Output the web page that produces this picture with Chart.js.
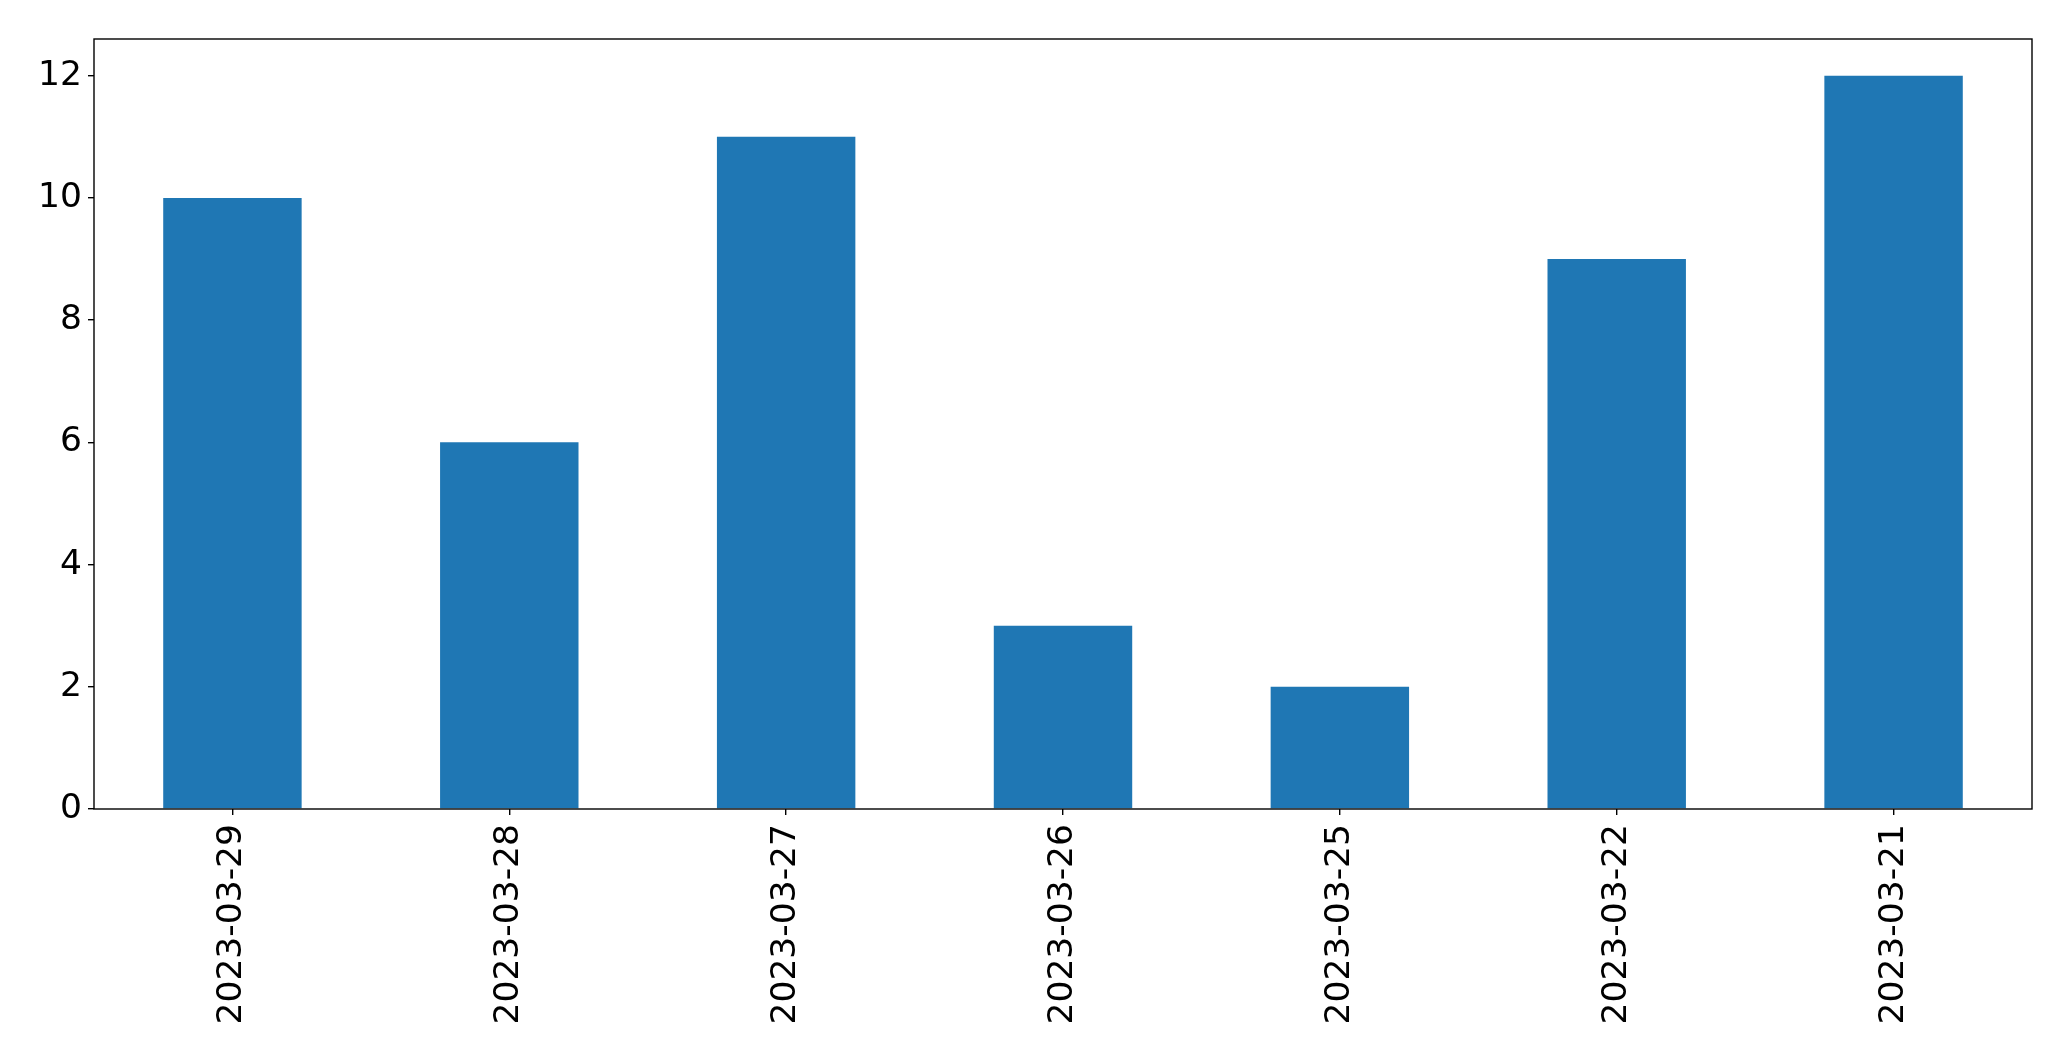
<!DOCTYPE html>
<html>
<head>
<meta charset="utf-8">
<script src="https://cdn.jsdelivr.net/npm/chart.js@4"></script>
<style>
  html, body { margin: 0; padding: 0; background: #fff; }
  canvas { display: block; }
</style>
</head>
<body>
<canvas id="c" width="2071" height="1061"></canvas>
<script>
// dati
var dates = ["2023-03-29", "2023-03-28", "2023-03-27", "2023-03-26", "2023-03-25", "2023-03-22", "2023-03-21"];
var counts = [10, 6, 11, 3, 2, 9, 12];
var yTicks = [0, 2, 4, 6, 8, 10, 12];

var FONT = { family: "DejaVu Sans", size: 34.5 };

// cornice completa attorno all'area del grafico
var frame = {
  id: "frame",
  afterDraw: function (chart) {
    var a = chart.chartArea, ctx = chart.ctx;
    ctx.save();
    ctx.strokeStyle = "#000";
    ctx.lineWidth = 1.4;
    ctx.strokeRect(a.left, a.top, a.right - a.left, a.bottom - a.top);
    ctx.restore();
  }
};

new Chart(document.getElementById("c"), {
  type: "bar",
  data: {
    labels: dates,
    datasets: [{ data: counts, backgroundColor: "#1f77b4", barPercentage: 0.5, categoryPercentage: 1.0 }]
  },
  options: {
    responsive: false,
    devicePixelRatio: 1,
    animation: false,
    layout: { padding: { top: 39, right: 39, left: 0, bottom: 0 } },
    plugins: { legend: { display: false }, tooltip: { enabled: false } },
    scales: {
      x: {
        offset: true,
        grid: { display: true, offset: false, drawOnChartArea: false, drawTicks: true, tickLength: 6, color: "#000", lineWidth: 1.4 },
        border: { display: false },
        ticks: { color: "#000", font: FONT, minRotation: 90, maxRotation: 90, padding: 9, autoSkip: false },
        afterFit: function (s) { s.height = 252; }
      },
      y: {
        min: 0,
        max: 12.6,
        afterBuildTicks: function (s) { s.ticks = yTicks.map(function (v) { return { value: v }; }); },
        grid: { display: true, drawOnChartArea: false, drawTicks: true, tickLength: 6, color: "#000", lineWidth: 1.4 },
        border: { display: false },
        ticks: { color: "#000", font: FONT, padding: 6 },
        afterFit: function (s) { s.width = 94; }
      }
    }
  },
  plugins: [frame]
});
</script>
</body>
</html>
